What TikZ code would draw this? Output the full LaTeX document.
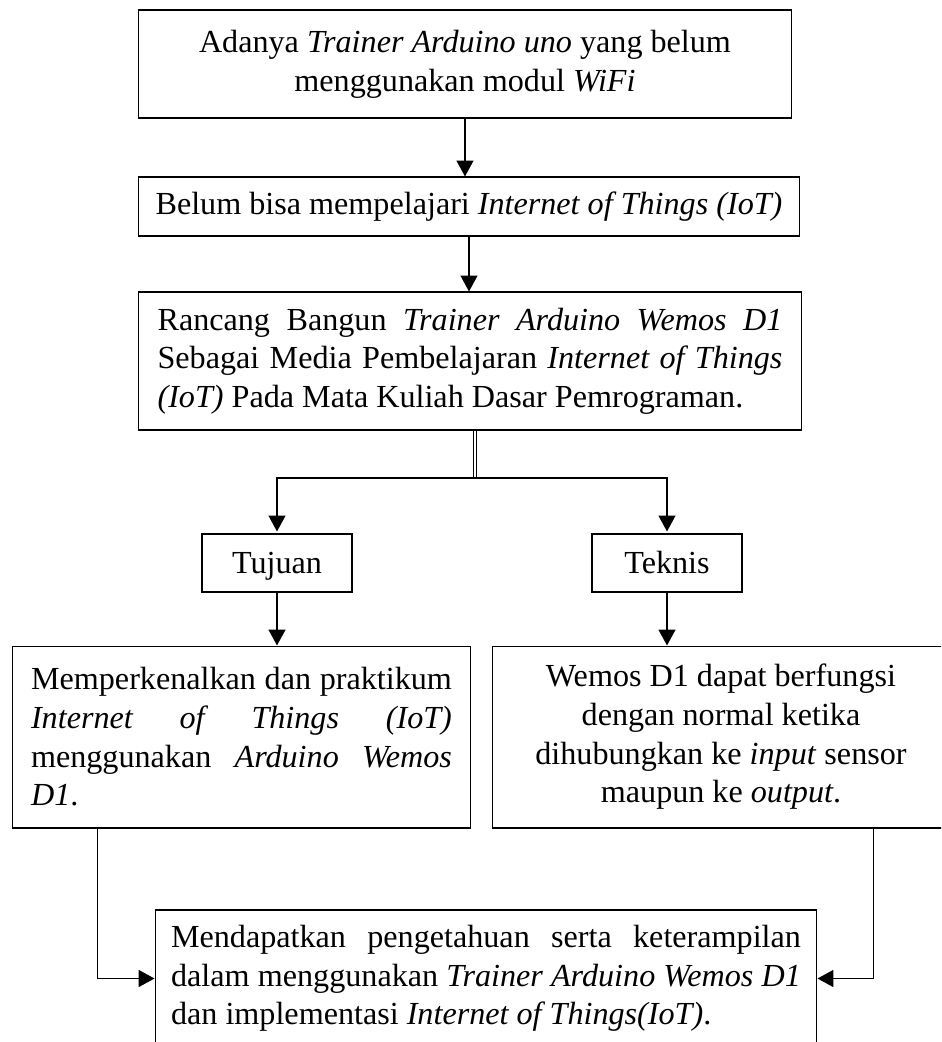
\documentclass[tikz,border=0pt]{standalone}
\usepackage{fontspec}
\setmainfont{Liberation Serif}
\usetikzlibrary{arrows.meta}
\hyphenpenalty=10000
\exhyphenpenalty=10000

\begin{document}
\begin{tikzpicture}[
    x=0.02cm, y=-0.02cm,
    every node/.style={font=\fontsize{18.3}{22}\selectfont},
    box/.style={rectangle, draw=black, line width=0.6pt, inner sep=0pt,
                align=center},
    jbox/.style={box, align=justify},
    kecil/.style={rectangle, draw=black, line width=0.6pt, inner sep=0pt,
                  minimum width=3.0cm, minimum height=1.16cm,
                  text height=12.5pt, text depth=1pt},
    arr/.style={-{Triangle[length=9pt, width=9.5pt]}, line width=1.1pt, color=black},
    garis/.style={line width=0.6pt, color=black},
    batang/.style={double, double distance=0.8pt, line width=0.5pt},
]
\useasboundingbox (0,0) rectangle (941,1042);
\clip (0,0) rectangle (941,1042);

% ---------------- the chain at the top
\node[box, minimum width=13.08cm, minimum height=2.16cm] (awal) at (465,64)
    {Adanya \textit{Trainer Arduino uno} yang belum\\ menggunakan modul \textit{WiFi}};
\node[box, minimum width=13.24cm, minimum height=1.18cm] (masalah) at (469,206.5)
    {Belum bisa mempelajari \textit{Internet of Things (IoT)}};
\node[jbox, text width=12.5cm, minimum width=13.28cm, minimum height=2.76cm] (judul) at (470,361)
    {Rancang Bangun \textit{Trainer Arduino Wemos D1}\linebreak
     Sebagai Media Pembelajaran \textit{Internet of Things}\linebreak
     \textit{(IoT)} Pada Mata Kuliah Dasar Pemrograman.};

\draw[arr] (awal.south) -- (awal.south |- masalah.north);
\draw[arr] (masalah.south) -- (masalah.south |- judul.north);

% ---------------- the two branches
\node[kecil] (tujuan) at (277,563) {Tujuan};
\node[kecil] (teknis) at (667,563) {Teknis};
\coordinate (cabang) at (475,478);

\draw[batang] (judul.south -| cabang) -- (cabang);
\draw[arr] (cabang) -| ([yshift=0.04cm]tujuan.north);
\draw[arr] (cabang) -| ([yshift=0.04cm]teknis.north);

\node[jbox, text width=8.42cm, minimum width=9.18cm, minimum height=3.64cm] (kiri) at (241.5,737)
    {Memperkenalkan dan praktikum\linebreak
     \textit{Internet of Things (IoT)}\linebreak
     menggunakan \textit{Arduino Wemos}\linebreak
     \textit{D1}.};
\node[box, minimum width=9.16cm, minimum height=3.64cm] (kanan) at (721,737)
    {Wemos D1 dapat berfungsi\\ dengan normal ketika\\
     dihubungkan ke \textit{input} sensor\\ maupun ke \textit{output}.};

\draw[arr] (tujuan.south) -- (tujuan.south |- kiri.north);
\draw[arr] (teknis.south) -- (teknis.south |- kanan.north);

% ---------------- the result
\node[jbox, text width=12.6cm, minimum width=13.24cm, minimum height=2.74cm] (hasil) at (486,978.5)
    {Mendapatkan pengetahuan serta keterampilan\linebreak
     dalam menggunakan \textit{Trainer Arduino Wemos D1}\linebreak
     dan implementasi \textit{Internet of Things(IoT)}.};

\coordinate (bawahkiri) at ([xshift=1.72cm]kiri.south west);
\coordinate (bawahkanan) at ([xshift=7.64cm]kanan.south west);
\draw[garis] (bawahkiri) -- (bawahkiri |- hasil.west);
\draw[garis] (bawahkanan) -- (bawahkanan |- hasil.east);
\draw[arr] (bawahkiri |- hasil.west) -- (hasil.west);
\draw[arr] (bawahkanan |- hasil.east) -- (hasil.east);
\end{tikzpicture}
\end{document}
